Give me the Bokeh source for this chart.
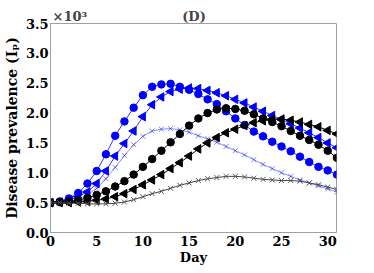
import math
from bokeh.plotting import figure
from bokeh.models import FixedTicker, Range1d
from bokeh.embed import file_html
from bokeh.resources import INLINE

# ---- data (disease prevalence, in thousands) ----
days = list(range(32))
blue_circ = [0.50,0.52,0.57,0.66,0.82,1.03,1.31,1.62,1.86,2.09,2.30,2.44,2.48,2.49,2.44,2.39,
             2.32,2.23,2.15,2.03,1.91,1.80,1.69,1.61,1.52,1.44,1.36,1.27,1.18,1.10,1.04,0.97]
blue_tri = [0.50,0.51,0.54,0.60,0.68,0.82,1.03,1.28,1.49,1.70,1.94,2.14,2.27,2.36,2.40,2.42,
            2.41,2.38,2.34,2.29,2.23,2.17,2.10,2.03,1.96,1.89,1.82,1.75,1.67,1.59,1.50,1.42]
blue_x = [0.50,0.50,0.52,0.56,0.63,0.74,0.90,1.09,1.29,1.47,1.61,1.70,1.73,1.74,1.72,1.68,
          1.62,1.57,1.51,1.44,1.37,1.30,1.22,1.14,1.07,1.00,0.94,0.88,0.83,0.78,0.73,0.68]
black_circ = [0.50,0.51,0.52,0.54,0.58,0.63,0.69,0.77,0.86,0.97,1.10,1.23,1.37,1.51,1.65,1.79,
              1.91,2.00,2.06,2.08,2.07,2.04,1.98,1.91,1.85,1.78,1.70,1.62,1.55,1.47,1.37,1.25]
black_tri = [0.50,0.50,0.50,0.51,0.52,0.54,0.56,0.60,0.65,0.72,0.80,0.88,0.97,1.07,1.17,1.28,
             1.40,1.50,1.59,1.67,1.73,1.79,1.84,1.87,1.90,1.90,1.88,1.85,1.81,1.77,1.71,1.65]
gray_x = [0.50,0.50,0.49,0.49,0.48,0.48,0.48,0.49,0.51,0.55,0.60,0.65,0.69,0.74,0.79,0.83,
          0.87,0.90,0.92,0.94,0.94,0.93,0.91,0.89,0.88,0.87,0.87,0.86,0.83,0.80,0.76,0.72]

x_ticks = [0, 5, 10, 15, 20, 25, 30]
y_ticks = [0.0, 0.5, 1.0, 1.5, 2.0, 2.5, 3.0, 3.5]
scale_text = "\u00d710\u00b3"
panel_text = "(D)"
x_title = "Day"
y_title = "Disease prevalence (I\u209a)"

FONT = "DejaVu Serif"
NBSP = "\u00a0"

p = figure(width=350, height=268, output_backend="svg", toolbar_location=None,
           x_range=Range1d(0, 30.95), y_range=Range1d(0, 3.5),
           min_border_left=48, min_border_right=14, min_border_top=23, min_border_bottom=36)
p.grid.visible = False
p.outline_line_color = "#a0a0a0"
p.outline_line_width = 1

p.title.text = scale_text + NBSP * 21 + panel_text
p.title.align = "left"
p.title.offset = 2
p.title.standoff = 0
p.title.text_font = FONT
p.title.text_font_style = "bold"
p.title.text_font_size = "13px"

for ax in (p.xaxis[0], p.yaxis[0]):
    ax.axis_line_color = "#a0a0a0"
    ax.major_tick_line_color = None
    ax.minor_tick_line_color = None
    ax.major_tick_out = 0
    ax.major_tick_in = 0
    ax.major_label_text_font = FONT
    ax.major_label_text_font_style = "bold"
    ax.major_label_text_font_size = "13px"
    ax.major_label_text_color = "black"
    ax.axis_label_text_font = FONT
    ax.axis_label_text_font_style = "bold"
    ax.axis_label_text_color = "black"

p.xaxis.ticker = FixedTicker(ticks=x_ticks)
p.yaxis.ticker = FixedTicker(ticks=y_ticks)
p.yaxis.major_label_overrides = {v: f"{v:.1f}" for v in y_ticks}
p.xaxis.major_label_standoff = 3
p.yaxis.major_label_standoff = 2
p.xaxis.axis_label = x_title
p.xaxis.axis_label_text_font_size = "13px"
p.xaxis.axis_label_standoff = 1
p.yaxis.axis_label = y_title
p.yaxis.axis_label_text_font_size = "14px"
p.yaxis.axis_label_standoff = 3

# series
p.line(days, blue_circ, color="blue", line_width=1, line_alpha=0.8)
p.scatter(days, blue_circ, marker="circle", size=7.5, color="blue")
p.line(days, blue_tri, color="blue", line_width=1, line_alpha=0.8)
p.scatter(days, blue_tri, marker="triangle", angle=math.pi / 2, size=8.5, color="blue")
p.line(days, blue_x, color="blue", line_width=1, line_alpha=0.45)
p.scatter(days, blue_x, marker="x", size=7, line_color="blue", line_alpha=0.5, line_width=1)
p.line(days, black_circ, color="black", line_width=1)
p.scatter(days, black_circ, marker="circle", size=7.5, color="black")
p.line(days, black_tri, color="black", line_width=1)
p.scatter(days, black_tri, marker="triangle", angle=math.pi / 2, size=8.5, color="black")
p.line(days, gray_x, color="#444444", line_width=1)
p.scatter(days, gray_x, marker="x", size=7, line_color="#555555", line_width=1)

open("out.html", "w").write(file_html(p, INLINE))
